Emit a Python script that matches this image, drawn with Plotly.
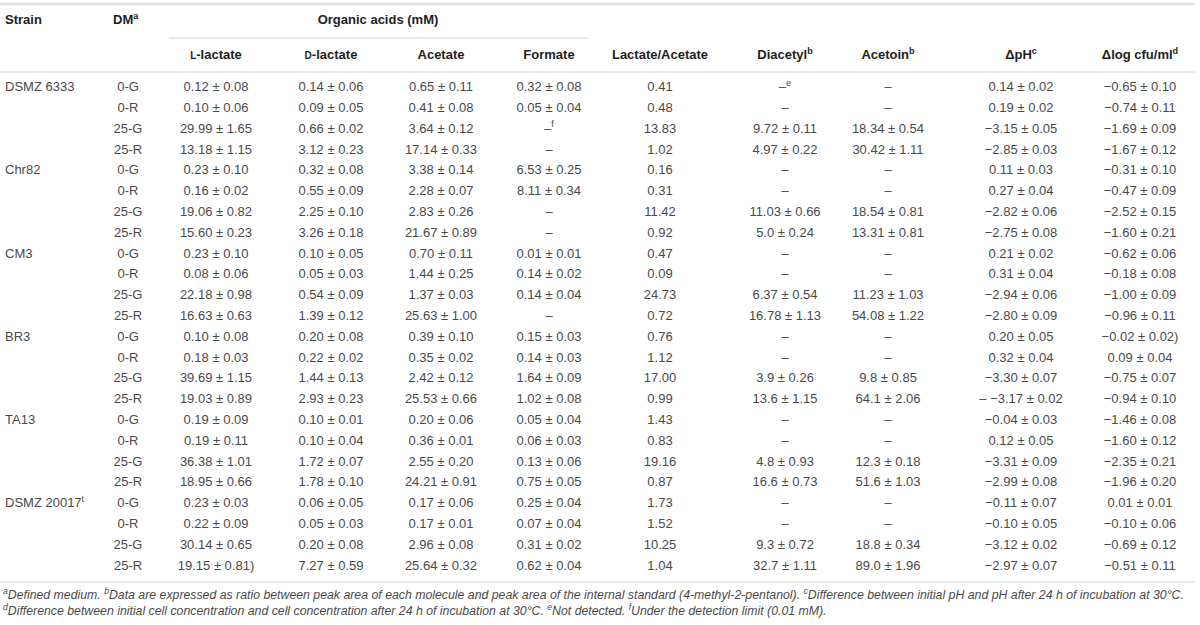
import plotly.graph_objects as go

# ---------------- data ----------------
strains = ["DSMZ 6333", "Chr82", "CM3", "BR3", "TA13", "DSMZ 20017<sup>t</sup>"]
dm_levels = ["0-G", "0-R", "25-G", "25-R"]

l_lactate = ["0.12 ± 0.08", "0.10 ± 0.06", "29.99 ± 1.65", "13.18 ± 1.15",
             "0.23 ± 0.10", "0.16 ± 0.02", "19.06 ± 0.82", "15.60 ± 0.23",
             "0.23 ± 0.10", "0.08 ± 0.06", "22.18 ± 0.98", "16.63 ± 0.63",
             "0.10 ± 0.08", "0.18 ± 0.03", "39.69 ± 1.15", "19.03 ± 0.89",
             "0.19 ± 0.09", "0.19 ± 0.11", "36.38 ± 1.01", "18.95 ± 0.66",
             "0.23 ± 0.03", "0.22 ± 0.09", "30.14 ± 0.65", "19.15 ± 0.81)"]
d_lactate = ["0.14 ± 0.06", "0.09 ± 0.05", "0.66 ± 0.02", "3.12 ± 0.23",
             "0.32 ± 0.08", "0.55 ± 0.09", "2.25 ± 0.10", "3.26 ± 0.18",
             "0.10 ± 0.05", "0.05 ± 0.03", "0.54 ± 0.09", "1.39 ± 0.12",
             "0.20 ± 0.08", "0.22 ± 0.02", "1.44 ± 0.13", "2.93 ± 0.23",
             "0.10 ± 0.01", "0.10 ± 0.04", "1.72 ± 0.07", "1.78 ± 0.10",
             "0.06 ± 0.05", "0.05 ± 0.03", "0.20 ± 0.08", "7.27 ± 0.59"]
acetate = ["0.65 ± 0.11", "0.41 ± 0.08", "3.64 ± 0.12", "17.14 ± 0.33",
           "3.38 ± 0.14", "2.28 ± 0.07", "2.83 ± 0.26", "21.67 ± 0.89",
           "0.70 ± 0.11", "1.44 ± 0.25", "1.37 ± 0.03", "25.63 ± 1.00",
           "0.39 ± 0.10", "0.35 ± 0.02", "2.42 ± 0.12", "25.53 ± 0.66",
           "0.20 ± 0.06", "0.36 ± 0.01", "2.55 ± 0.20", "24.21 ± 0.91",
           "0.17 ± 0.06", "0.17 ± 0.01", "2.96 ± 0.08", "25.64 ± 0.32"]
formate = ["0.32 ± 0.08", "0.05 ± 0.04", "–<sup>f</sup>", "–",
           "6.53 ± 0.25", "8.11 ± 0.34", "–", "–",
           "0.01 ± 0.01", "0.14 ± 0.02", "0.14 ± 0.04", "–",
           "0.15 ± 0.03", "0.14 ± 0.03", "1.64 ± 0.09", "1.02 ± 0.08",
           "0.05 ± 0.04", "0.06 ± 0.03", "0.13 ± 0.06", "0.75 ± 0.05",
           "0.25 ± 0.04", "0.07 ± 0.04", "0.31 ± 0.02", "0.62 ± 0.04"]
lactate_acetate = ["0.41", "0.48", "13.83", "1.02",
                   "0.16", "0.31", "11.42", "0.92",
                   "0.47", "0.09", "24.73", "0.72",
                   "0.76", "1.12", "17.00", "0.99",
                   "1.43", "0.83", "19.16", "0.87",
                   "1.73", "1.52", "10.25", "1.04"]
diacetyl = ["–<sup>e</sup>", "–", "9.72 ± 0.11", "4.97 ± 0.22",
            "–", "–", "11.03 ± 0.66", "5.0 ± 0.24",
            "–", "–", "6.37 ± 0.54", "16.78 ± 1.13",
            "–", "–", "3.9 ± 0.26", "13.6 ± 1.15",
            "–", "–", "4.8 ± 0.93", "16.6 ± 0.73",
            "–", "–", "9.3 ± 0.72", "32.7 ± 1.11"]
acetoin = ["–", "–", "18.34 ± 0.54", "30.42 ± 1.11",
           "–", "–", "18.54 ± 0.81", "13.31 ± 0.81",
           "–", "–", "11.23 ± 1.03", "54.08 ± 1.22",
           "–", "–", "9.8 ± 0.85", "64.1 ± 2.06",
           "–", "–", "12.3 ± 0.18", "51.6 ± 1.03",
           "–", "–", "18.8 ± 0.34", "89.0 ± 1.96"]
delta_ph = ["0.14 ± 0.02", "0.19 ± 0.02", "−3.15 ± 0.05", "−2.85 ± 0.03",
            "0.11 ± 0.03", "0.27 ± 0.04", "−2.82 ± 0.06", "−2.75 ± 0.08",
            "0.21 ± 0.02", "0.31 ± 0.04", "−2.94 ± 0.06", "−2.80 ± 0.09",
            "0.20 ± 0.05", "0.32 ± 0.04", "−3.30 ± 0.07", "– −3.17 ± 0.02",
            "−0.04 ± 0.03", "0.12 ± 0.05", "−3.31 ± 0.09", "−2.99 ± 0.08",
            "−0.11 ± 0.07", "−0.10 ± 0.05", "−3.12 ± 0.02", "−2.97 ± 0.07"]
delta_log_cfu = ["−0.65 ± 0.10", "−0.74 ± 0.11", "−1.69 ± 0.09", "−1.67 ± 0.12",
                 "−0.31 ± 0.10", "−0.47 ± 0.09", "−2.52 ± 0.15", "−1.60 ± 0.21",
                 "−0.62 ± 0.06", "−0.18 ± 0.08", "−1.00 ± 0.09", "−0.96 ± 0.11",
                 "−0.02 ± 0.02)", "0.09 ± 0.04", "−0.75 ± 0.07", "−0.94 ± 0.10",
                 "−1.46 ± 0.08", "−1.60 ± 0.12", "−2.35 ± 0.21", "−1.96 ± 0.20",
                 "0.01 ± 0.01", "−0.10 ± 0.06", "−0.69 ± 0.12", "−0.51 ± 0.11"]

header_top = ["Strain", "DM<sup>a</sup>", "Organic acids (mM)"]
header_sub = ["<span style='font-size:10px'>L</span>-lactate",
              "<span style='font-size:10px'>D</span>-lactate",
              "Acetate", "Formate", "Lactate/Acetate",
              "Diacetyl<sup>b</sup>", "Acetoin<sup>b</sup>",
              "ΔpH<sup>c</sup>", "Δlog cfu/ml<sup>d</sup>"]
footnotes = [
    "<sup>a</sup>Defined medium. <sup>b</sup>Data are expressed as ratio between peak area of each molecule and peak area of the internal standard (4-methyl-2-pentanol). <sup>c</sup>Difference between initial pH and pH after 24 h of incubation at 30°C.",
    "<sup>d</sup>Difference between initial cell concentration and cell concentration after 24 h of incubation at 30°C. <sup>e</sup>Not detected. <sup>f</sup>Under the detection limit (0.01 mM).",
]

# ---------------- layout geometry ----------------
W, H = 1200, 625
FONT = "Liberation Sans"
VAL_COLOR = "#4a4a4a"
HEAD_COLOR = "#1e1e1e"
LINE_COLOR = "#d4d4d4"
VAL_SIZE = 13
HEAD_SIZE = 13

row0, row_step = 88, 20.8
n_rows = len(strains) * len(dm_levels)
row_y = [row0 + row_step * i for i in range(n_rows)]

strain_x = 5
dm_x = 128
value_cols = [l_lactate, d_lactate, acetate, formate, lactate_acetate,
              diacetyl, acetoin, delta_ph, delta_log_cfu]
col_x = [216, 331, 441, 549, 660, 785, 888, 1021, 1140]

head_top_y, head_sub_y = 21, 56

fig = go.Figure()

# strain labels
fig.add_trace(go.Scatter(
    x=[strain_x] * len(strains),
    y=[row_y[i * len(dm_levels)] for i in range(len(strains))],
    text=strains, mode="text", textposition="middle right",
    textfont=dict(family=FONT, size=VAL_SIZE, color=VAL_COLOR),
    hoverinfo="skip", showlegend=False))

# DM labels
fig.add_trace(go.Scatter(
    x=[dm_x] * n_rows, y=row_y,
    text=dm_levels * len(strains), mode="text", textposition="middle center",
    textfont=dict(family=FONT, size=VAL_SIZE, color=VAL_COLOR),
    hoverinfo="skip", showlegend=False))

# value columns
for cx, vals in zip(col_x, value_cols):
    fig.add_trace(go.Scatter(
        x=[cx] * len(vals), y=row_y, text=vals, mode="text",
        textposition="middle center",
        textfont=dict(family=FONT, size=VAL_SIZE, color=VAL_COLOR),
        hoverinfo="skip", showlegend=False))

# headers
fig.add_trace(go.Scatter(
    x=[strain_x, 113, 378], y=[head_top_y] * 3, text=header_top,
    mode="text", textposition=["middle right", "middle right", "middle center"],
    textfont=dict(family=FONT, size=HEAD_SIZE, color=HEAD_COLOR, weight="bold"),
    hoverinfo="skip", showlegend=False))
fig.add_trace(go.Scatter(
    x=col_x, y=[head_sub_y] * len(col_x), text=header_sub,
    mode="text", textposition="middle center",
    textfont=dict(family=FONT, size=HEAD_SIZE, color=HEAD_COLOR, weight="bold"),
    hoverinfo="skip", showlegend=False))

# footnotes
fig.add_trace(go.Scatter(
    x=[3, 3], y=[596, 612], text=["<i>" + f + "</i>" for f in footnotes],
    mode="text", textposition="middle right",
    textfont=dict(family=FONT, size=12.3, color=VAL_COLOR),
    hoverinfo="skip", showlegend=False))

# rules
shapes = [
    dict(type="line", x0=0, x1=1195, y0=4, y1=4, line=dict(color="#e4e4e4", width=3)),
    dict(type="line", x0=169, x1=588, y0=38, y1=38, line=dict(color=LINE_COLOR, width=1)),
    dict(type="line", x0=0, x1=1195, y0=72, y1=72, line=dict(color=LINE_COLOR, width=1)),
    dict(type="line", x0=0, x1=1195, y0=582, y1=582, line=dict(color=LINE_COLOR, width=1)),
]
for s in shapes:
    s.update(xref="x", yref="y", layer="below")

fig.update_layout(
    width=W, height=H, margin=dict(l=0, r=0, t=0, b=0),
    paper_bgcolor="white", plot_bgcolor="white",
    xaxis=dict(range=[0, W], visible=False, fixedrange=True),
    yaxis=dict(range=[H, 0], visible=False, fixedrange=True),
    shapes=shapes, showlegend=False,
)

fig.write_html("out.html", config={"displayModeBar": False},
               post_script="document.body.style.margin='0';document.body.style.overflow='hidden';")
